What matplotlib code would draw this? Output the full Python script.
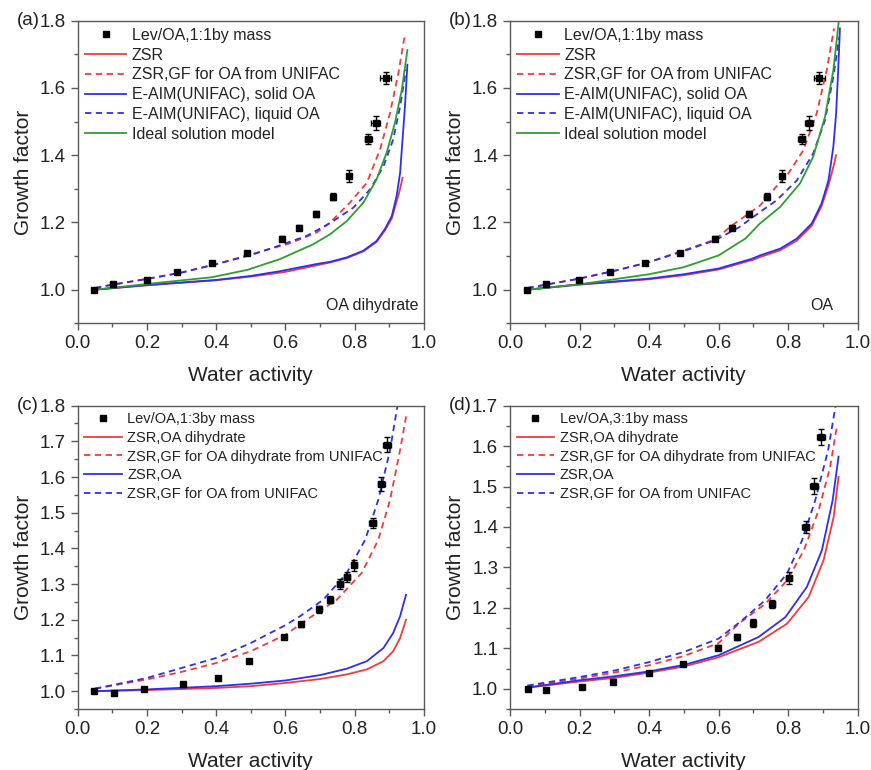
import numpy as np
import matplotlib
matplotlib.use("Agg")
import matplotlib.pyplot as plt
from matplotlib.ticker import MultipleLocator

plt.rcParams['font.family'] = ['Liberation Sans', 'DejaVu Sans']

RED = '#f23a3a'
BLUE = '#2e2ef0'
GREEN = '#2f9e2f'
AX_COL = '#5a5a5a'
TXT = '#222222'

# measured growth factors, Lev/OA 1:1 (panels a and b)
aw_11 = [0.048, 0.103, 0.199, 0.288, 0.387, 0.49, 0.589, 0.639, 0.688, 0.738, 0.783, 0.839, 0.86, 0.89]
gf_11 = [1.0, 1.017, 1.03, 1.054, 1.079, 1.109, 1.152, 1.184, 1.224, 1.277, 1.338, 1.448, 1.496, 1.629]
gf_11_err = [0.004, 0.004, 0.004, 0.005, 0.005, 0.006, 0.007, 0.007, 0.009, 0.01, 0.018, 0.014, 0.02, 0.018]
aw_11_err = [0.004, 0.004, 0.004, 0.004, 0.004, 0.005, 0.005, 0.005, 0.006, 0.006, 0.006, 0.01, 0.012, 0.016]

# Lev/OA 1:3 (panel c)
aw_13 = [0.048, 0.105, 0.192, 0.303, 0.406, 0.496, 0.596, 0.646, 0.697, 0.73, 0.757, 0.777, 0.799, 0.852, 0.877, 0.894]
gf_13 = [1.0, 0.995, 1.007, 1.02, 1.037, 1.084, 1.152, 1.187, 1.229, 1.256, 1.30, 1.32, 1.353, 1.471, 1.581, 1.691]
gf_13_err = [0.004, 0.004, 0.004, 0.005, 0.005, 0.005, 0.006, 0.007, 0.01, 0.01, 0.015, 0.015, 0.015, 0.015, 0.02, 0.02]
aw_13_err = [0.004, 0.004, 0.004, 0.004, 0.004, 0.004, 0.005, 0.005, 0.005, 0.006, 0.008, 0.008, 0.008, 0.01, 0.01, 0.012]

# Lev/OA 3:1 (panel d)
aw_31 = [0.051, 0.105, 0.206, 0.297, 0.40, 0.499, 0.599, 0.652, 0.70, 0.755, 0.802, 0.85, 0.875, 0.895]
gf_31 = [1.0, 0.998, 1.005, 1.018, 1.04, 1.062, 1.102, 1.128, 1.163, 1.21, 1.274, 1.399, 1.502, 1.623]
gf_31_err = [0.004, 0.004, 0.004, 0.005, 0.005, 0.005, 0.006, 0.008, 0.01, 0.01, 0.015, 0.015, 0.02, 0.02]
aw_31_err = [0.004, 0.004, 0.004, 0.004, 0.004, 0.004, 0.005, 0.005, 0.005, 0.006, 0.008, 0.01, 0.012, 0.012]

# model curves, panel a (OA dihydrate)
a_zsr_x = [0.05, 0.2, 0.4, 0.5, 0.6, 0.688, 0.729, 0.777, 0.825, 0.863, 0.887, 0.907, 0.921, 0.931, 0.938]
a_zsr_y = [1.0, 1.013, 1.028, 1.039, 1.053, 1.072, 1.081, 1.094, 1.114, 1.142, 1.176, 1.212, 1.262, 1.30, 1.333]
a_zsruni_x = [0.05, 0.1, 0.2, 0.3, 0.4, 0.5, 0.613, 0.69, 0.729, 0.786, 0.835, 0.873, 0.902, 0.926, 0.942, 0.948]
a_zsruni_y = [1.005, 1.015, 1.032, 1.051, 1.076, 1.105, 1.138, 1.17, 1.2, 1.259, 1.318, 1.417, 1.526, 1.644, 1.743, 1.758]
a_solid_x = [0.05, 0.2, 0.4, 0.5, 0.584, 0.688, 0.729, 0.777, 0.825, 0.863, 0.887, 0.907, 0.921, 0.931, 0.938, 0.945, 0.952]
a_solid_y = [1.0, 1.014, 1.029, 1.041, 1.055, 1.076, 1.083, 1.096, 1.116, 1.145, 1.18, 1.219, 1.279, 1.348, 1.447, 1.545, 1.669]
a_liq_x = [0.05, 0.1, 0.2, 0.3, 0.4, 0.5, 0.584, 0.661, 0.729, 0.796, 0.844, 0.883, 0.911, 0.931, 0.948]
a_liq_y = [1.005, 1.015, 1.032, 1.051, 1.076, 1.103, 1.132, 1.16, 1.198, 1.244, 1.298, 1.367, 1.447, 1.545, 1.654]
a_ideal_x = [0.05, 0.2, 0.387, 0.49, 0.584, 0.68, 0.729, 0.777, 0.825, 0.863, 0.892, 0.916, 0.936, 0.952]
a_ideal_y = [1.0, 1.017, 1.037, 1.059, 1.091, 1.135, 1.165, 1.204, 1.259, 1.328, 1.407, 1.496, 1.595, 1.713]

# model curves, panel b (OA)
b_zsr_x = [0.05, 0.2, 0.4, 0.5, 0.6, 0.696, 0.719, 0.777, 0.825, 0.868, 0.896, 0.916, 0.93, 0.938]
b_zsr_y = [1.0, 1.015, 1.031, 1.043, 1.06, 1.088, 1.097, 1.117, 1.146, 1.19, 1.248, 1.31, 1.365, 1.40]
b_zsruni_x = [0.05, 0.2, 0.3, 0.4, 0.5, 0.59, 0.638, 0.719, 0.748, 0.80, 0.844, 0.882, 0.911, 0.932]
b_zsruni_y = [1.005, 1.033, 1.056, 1.082, 1.117, 1.149, 1.191, 1.25, 1.286, 1.345, 1.415, 1.524, 1.653, 1.777]
b_solid_x = [0.05, 0.2, 0.4, 0.5, 0.6, 0.696, 0.719, 0.777, 0.825, 0.868, 0.896, 0.916, 0.93, 0.938, 0.944, 0.949]
b_solid_y = [1.0, 1.016, 1.033, 1.046, 1.063, 1.092, 1.102, 1.122, 1.152, 1.197, 1.256, 1.325, 1.425, 1.524, 1.653, 1.777]
b_liq_x = [0.05, 0.2, 0.3, 0.4, 0.5, 0.59, 0.658, 0.719, 0.767, 0.825, 0.872, 0.906, 0.93, 0.947]
b_liq_y = [1.005, 1.033, 1.056, 1.082, 1.115, 1.147, 1.185, 1.231, 1.266, 1.325, 1.405, 1.504, 1.633, 1.752]
b_ideal_x = [0.05, 0.2, 0.4, 0.5, 0.6, 0.677, 0.719, 0.777, 0.834, 0.872, 0.906, 0.93, 0.946]
b_ideal_y = [1.0, 1.016, 1.046, 1.067, 1.102, 1.152, 1.197, 1.246, 1.316, 1.395, 1.514, 1.653, 1.802]

# model curves, panel c (Lev/OA 1:3)
c_zsrdi_x = [0.05, 0.2, 0.4, 0.5, 0.6, 0.70, 0.777, 0.835, 0.883, 0.911, 0.931, 0.948]
c_zsrdi_y = [1.0, 1.003, 1.009, 1.014, 1.023, 1.034, 1.047, 1.061, 1.084, 1.112, 1.149, 1.2]
c_unidi_x = [0.05, 0.2, 0.3, 0.4, 0.5, 0.6, 0.661, 0.748, 0.82, 0.868, 0.902, 0.931, 0.95]
c_unidi_y = [1.007, 1.033, 1.054, 1.079, 1.112, 1.158, 1.2, 1.256, 1.331, 1.424, 1.536, 1.676, 1.779]
c_zsroa_x = [0.05, 0.2, 0.4, 0.5, 0.6, 0.70, 0.777, 0.835, 0.883, 0.911, 0.931, 0.948]
c_zsroa_y = [1.0, 1.005, 1.014, 1.021, 1.03, 1.045, 1.063, 1.084, 1.121, 1.163, 1.21, 1.27]
c_unioa_x = [0.05, 0.2, 0.3, 0.4, 0.5, 0.6, 0.642, 0.709, 0.777, 0.83, 0.868, 0.902, 0.923]
c_unioa_y = [1.007, 1.037, 1.065, 1.093, 1.135, 1.185, 1.21, 1.256, 1.331, 1.424, 1.536, 1.676, 1.797]

# model curves, panel d (Lev/OA 3:1)
d_zsrdi_x = [0.05, 0.2, 0.3, 0.4, 0.5, 0.6, 0.715, 0.797, 0.859, 0.902, 0.931, 0.945]
d_zsrdi_y = [1.003, 1.018, 1.027, 1.04, 1.055, 1.078, 1.116, 1.161, 1.227, 1.318, 1.425, 1.524]
d_unidi_x = [0.05, 0.2, 0.3, 0.4, 0.5, 0.6, 0.658, 0.734, 0.797, 0.845, 0.888, 0.921, 0.94]
d_unidi_y = [1.006, 1.025, 1.04, 1.058, 1.081, 1.113, 1.161, 1.21, 1.268, 1.342, 1.442, 1.549, 1.648]
d_zsroa_x = [0.05, 0.2, 0.3, 0.4, 0.5, 0.6, 0.715, 0.792, 0.854, 0.897, 0.928, 0.945]
d_zsroa_y = [1.003, 1.021, 1.031, 1.043, 1.059, 1.083, 1.128, 1.177, 1.252, 1.342, 1.466, 1.574]
d_unioa_x = [0.05, 0.2, 0.3, 0.4, 0.5, 0.6, 0.667, 0.734, 0.797, 0.84, 0.878, 0.915, 0.936]
d_unioa_y = [1.008, 1.029, 1.045, 1.066, 1.091, 1.124, 1.169, 1.219, 1.285, 1.367, 1.466, 1.59, 1.697]


def style_axes(ax, ylim, ymajor, yminor, tag):
    ax.set_xlim(0.0, 1.0)
    ax.set_ylim(*ylim)
    ax.xaxis.set_major_locator(MultipleLocator(0.2))
    ax.xaxis.set_minor_locator(MultipleLocator(0.1))
    ax.yaxis.set_major_locator(MultipleLocator(ymajor))
    ax.yaxis.set_minor_locator(MultipleLocator(yminor))
    ax.tick_params(which='both', direction='out', top=False, right=False,
                   colors=AX_COL, labelcolor=TXT, labelsize=13.5, width=1.0)
    ax.tick_params(which='major', length=5)
    ax.tick_params(which='minor', length=3)
    for s in ax.spines.values():
        s.set_color(AX_COL)
        s.set_linewidth(1.0)
    ax.set_xlabel('Water activity', fontsize=15, color=TXT, labelpad=10)
    ax.set_ylabel('Growth factor', fontsize=15, color=TXT, labelpad=5)
    ax.text(-0.175, 1.0, tag, transform=ax.transAxes, ha='left', va='center',
            fontsize=13.5, color=TXT)


def points(ax, x, y, xe, ye, label):
    ax.errorbar(x, y, yerr=ye, xerr=xe, fmt='none', ecolor='black', elinewidth=1.0,
                capsize=2.5, capthick=1.0, zorder=4)
    ax.plot(x, y, 's', color='black', markersize=4.5, label=label, zorder=5)


fig = plt.figure(figsize=(8.71, 7.70), dpi=100)
ax_a = fig.add_axes([0.0892, 0.5801, 0.3976, 0.393])
ax_b = fig.add_axes([0.5855, 0.5801, 0.3992, 0.393])
ax_c = fig.add_axes([0.0892, 0.0792, 0.3976, 0.394])
ax_d = fig.add_axes([0.5855, 0.0792, 0.3992, 0.394])

lw = 1.3
dash = (3.5, 2.5)

# (a)
points(ax_a, aw_11, gf_11, aw_11_err, gf_11_err, 'Lev/OA,1:1by mass')
ax_a.plot(a_zsr_x, a_zsr_y, color=RED, lw=lw, label='ZSR')
ax_a.plot(a_zsruni_x, a_zsruni_y, color=RED, lw=lw, ls=(0, dash), label='ZSR,GF for OA from UNIFAC')
ax_a.plot(a_solid_x, a_solid_y, color=BLUE, lw=lw, label='E-AIM(UNIFAC), solid OA')
ax_a.plot(a_liq_x, a_liq_y, color=BLUE, lw=lw, ls=(0, dash), label='E-AIM(UNIFAC), liquid OA')
ax_a.plot(a_ideal_x, a_ideal_y, color=GREEN, lw=lw, label='Ideal solution model')
style_axes(ax_a, (0.9, 1.8), 0.2, 0.1, '(a)')
ax_a.text(0.985, 0.035, 'OA dihydrate', transform=ax_a.transAxes, ha='right', va='bottom',
          fontsize=11.5, color=TXT)

# (b)
points(ax_b, aw_11, gf_11, aw_11_err, gf_11_err, 'Lev/OA,1:1by mass')
ax_b.plot(b_zsr_x, b_zsr_y, color=RED, lw=lw, label='ZSR')
ax_b.plot(b_zsruni_x, b_zsruni_y, color=RED, lw=lw, ls=(0, dash), label='ZSR,GF for OA from UNIFAC')
ax_b.plot(b_solid_x, b_solid_y, color=BLUE, lw=lw, label='E-AIM(UNIFAC), solid OA')
ax_b.plot(b_liq_x, b_liq_y, color=BLUE, lw=lw, ls=(0, dash), label='E-AIM(UNIFAC), liquid OA')
ax_b.plot(b_ideal_x, b_ideal_y, color=GREEN, lw=lw, label='Ideal solution model')
style_axes(ax_b, (0.9, 1.8), 0.2, 0.1, '(b)')
ax_b.text(0.93, 0.035, 'OA', transform=ax_b.transAxes, ha='right', va='bottom',
          fontsize=11.5, color=TXT)

# (c)
points(ax_c, aw_13, gf_13, aw_13_err, gf_13_err, 'Lev/OA,1:3by mass')
ax_c.plot(c_zsrdi_x, c_zsrdi_y, color=RED, lw=lw, label='ZSR,OA dihydrate')
ax_c.plot(c_unidi_x, c_unidi_y, color=RED, lw=lw, ls=(0, dash), label='ZSR,GF for OA dihydrate from UNIFAC')
ax_c.plot(c_zsroa_x, c_zsroa_y, color=BLUE, lw=lw, label='ZSR,OA')
ax_c.plot(c_unioa_x, c_unioa_y, color=BLUE, lw=lw, ls=(0, dash), label='ZSR,GF for OA from UNIFAC')
style_axes(ax_c, (0.95, 1.8), 0.1, 0.05, '(c)')

# (d)
points(ax_d, aw_31, gf_31, aw_31_err, gf_31_err, 'Lev/OA,3:1by mass')
ax_d.plot(d_zsrdi_x, d_zsrdi_y, color=RED, lw=lw, label='ZSR,OA dihydrate')
ax_d.plot(d_unidi_x, d_unidi_y, color=RED, lw=lw, ls=(0, dash), label='ZSR,GF for OA dihydrate from UNIFAC')
ax_d.plot(d_zsroa_x, d_zsroa_y, color=BLUE, lw=lw, label='ZSR,OA')
ax_d.plot(d_unioa_x, d_unioa_y, color=BLUE, lw=lw, ls=(0, dash), label='ZSR,GF for OA from UNIFAC')
style_axes(ax_d, (0.95, 1.7), 0.1, 0.05, '(d)')

for ax, fs, sp in [(ax_a, 11.5, 0.3), (ax_b, 11.5, 0.3), (ax_c, 10.5, 0.32), (ax_d, 10.5, 0.32)]:
    leg = ax.legend(loc='upper left', frameon=False, fontsize=fs, handlelength=2.6,
                    handletextpad=0.35, labelspacing=sp, borderaxespad=0.3, borderpad=0.15)
    for t in leg.get_texts():
        t.set_color(TXT)

fig.savefig('out.png', dpi=100)
